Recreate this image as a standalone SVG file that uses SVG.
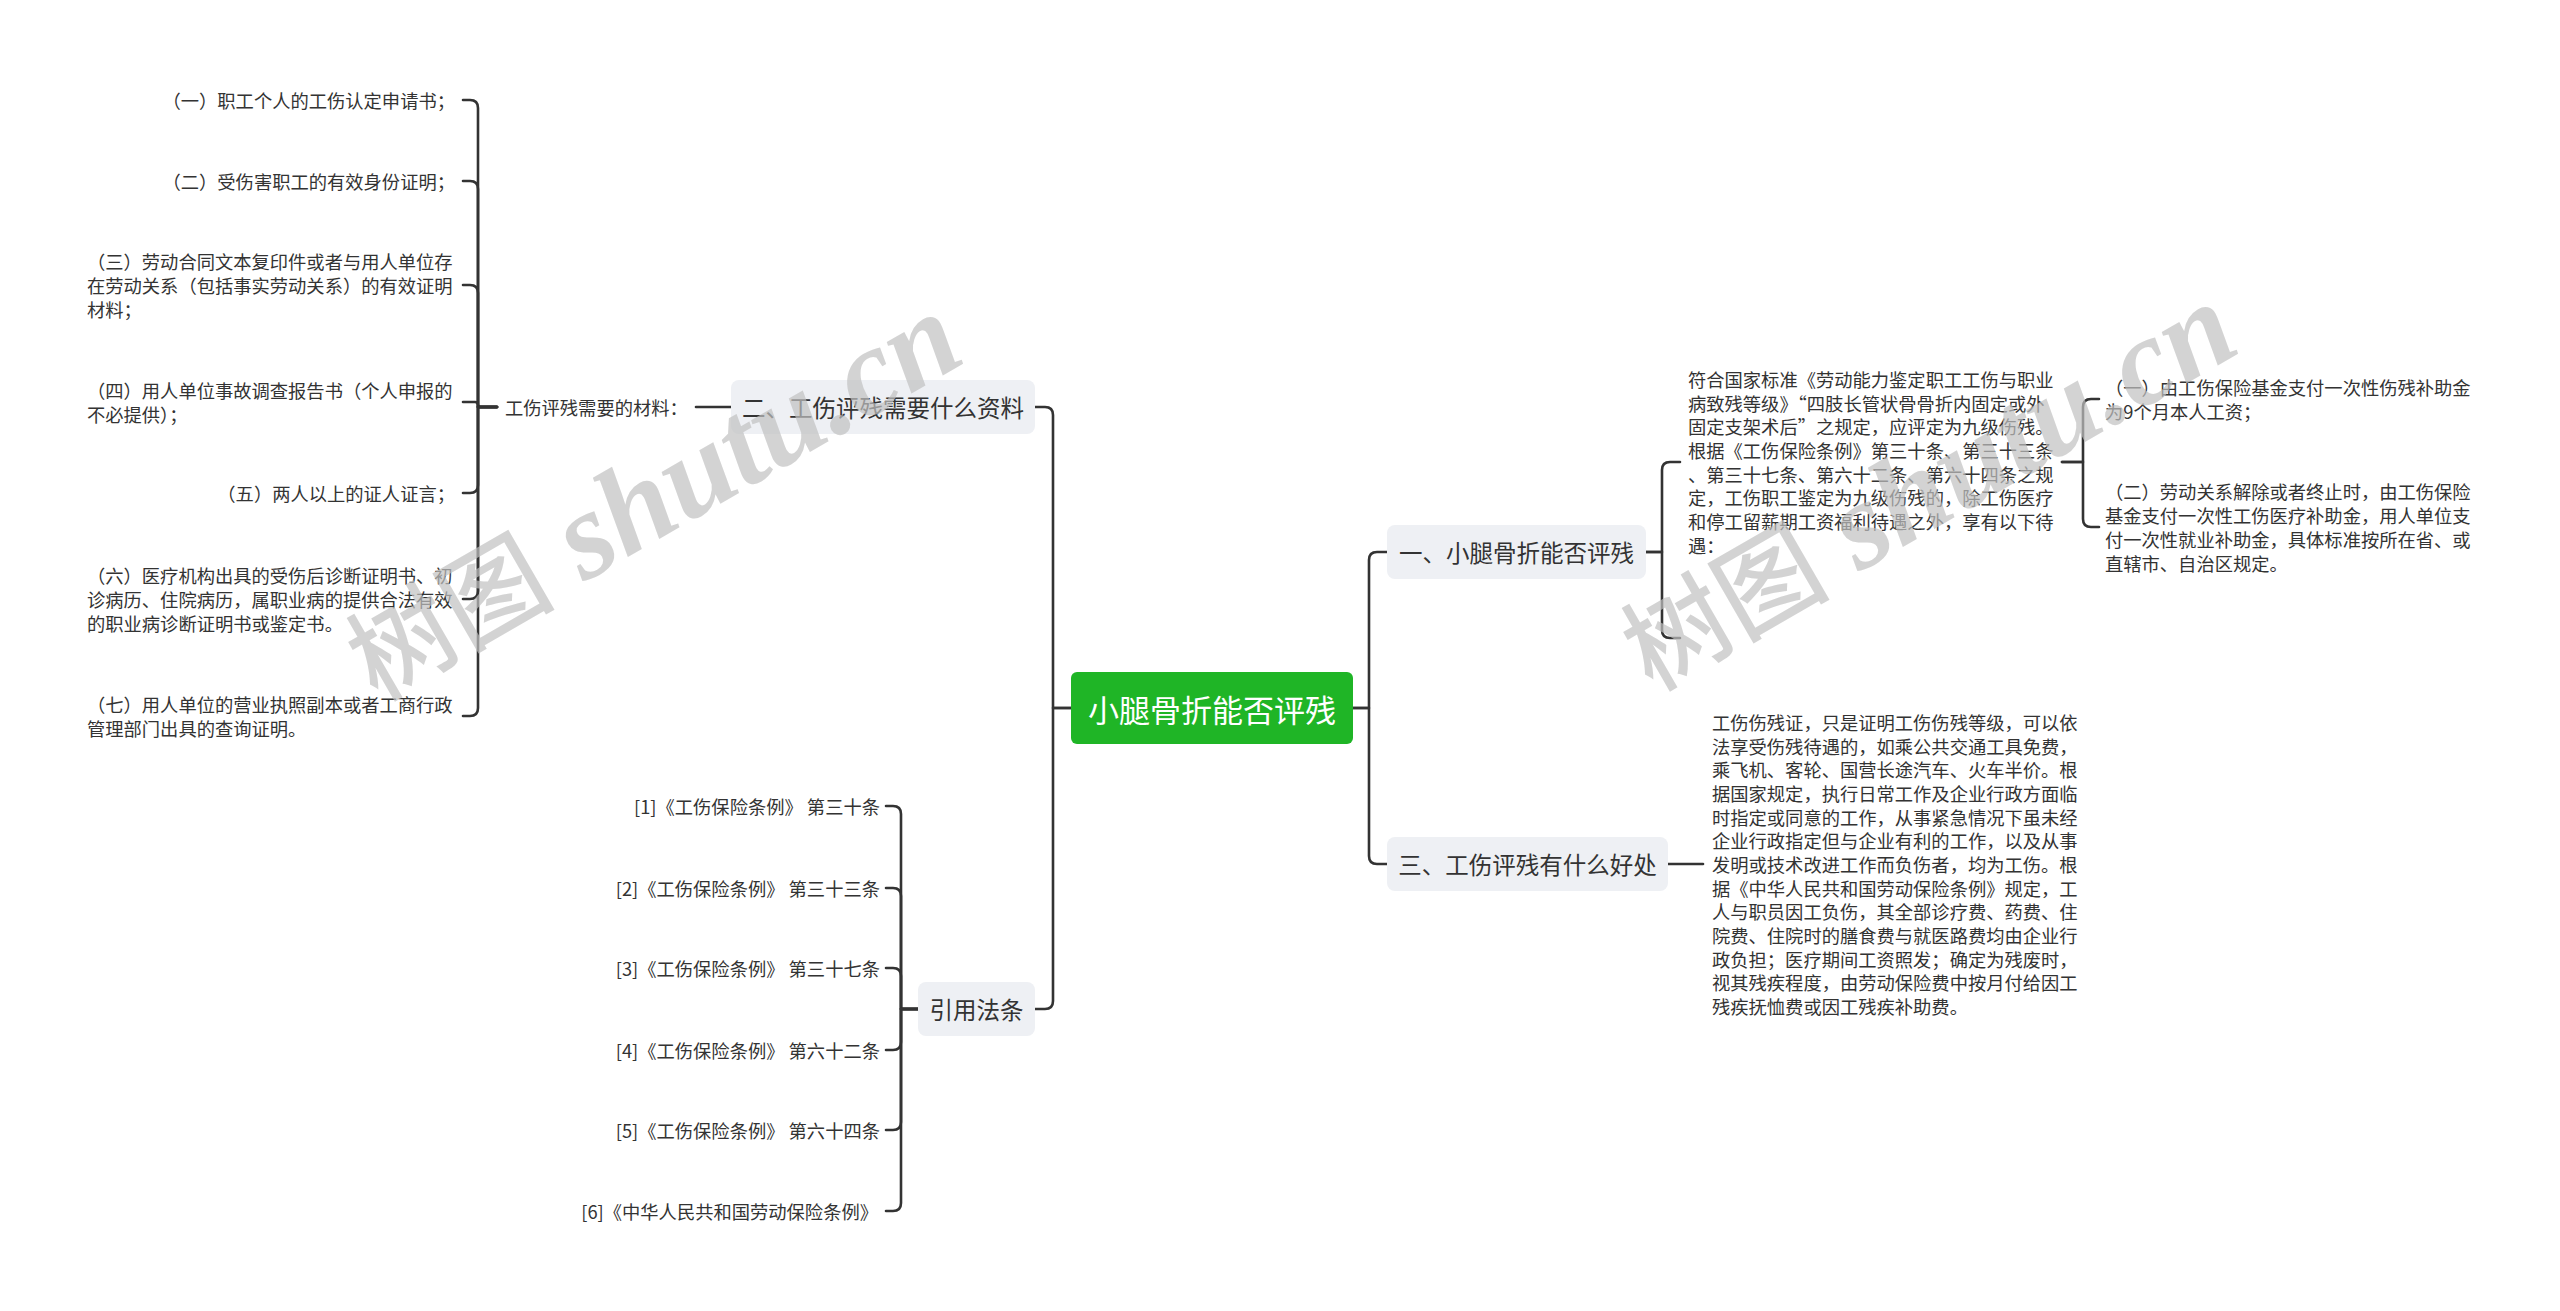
<svg xmlns="http://www.w3.org/2000/svg" width="2560" height="1311" viewBox="0 0 2560 1311">
<style>
.t{font-family:"Noto Sans CJK SC","Microsoft YaHei",sans-serif;fill:#333;}
.leaf{font-size:18.3px;dominant-baseline:central;}
.sub{font-size:23.5px;dominant-baseline:central;text-anchor:middle;}
.box{fill:#eef0f4;}
.c{fill:none;stroke:#333;stroke-width:2.6;stroke-linecap:round;stroke-linejoin:round;}
.wm1{font-family:"Noto Sans CJK SC",sans-serif;font-weight:500;}
.wm2{font-family:"Liberation Serif",serif;font-style:italic;font-weight:bold;}
</style>
<rect width="2560" height="1311" fill="#ffffff"/>
<g id="connectors">
<path class="c" d="M497,407 H478 V108 Q478,100 470,100 H463"/>
<path class="c" d="M497,407 H478 V189 Q478,181 470,181 H463"/>
<path class="c" d="M497,407 H478 V293 Q478,285 470,285 H463"/>
<path class="c" d="M497,407 H478 V405 Q478,402 475,402 H463"/>
<path class="c" d="M497,407 H478 V485 Q478,493 470,493 H463"/>
<path class="c" d="M497,407 H478 V591 Q478,599 470,599 H463"/>
<path class="c" d="M497,407 H478 V708 Q478,716 470,716 H463"/>
<path class="c" d="M696,407 H731"/>
<path class="c" d="M1071,708 H1053 V415 Q1053,407 1045,407 H1035"/>
<path class="c" d="M1071,708 H1053 V1001 Q1053,1009 1045,1009 H1035"/>
<path class="c" d="M1353,708 H1369 V560 Q1369,552 1377,552 H1387"/>
<path class="c" d="M1353,708 H1369 V856 Q1369,864 1377,864 H1387"/>
<path class="c" d="M1646,552 H1662 V470 Q1662,462 1670,462 H1680"/>
<path class="c" d="M1646,552 H1662 V630 Q1662,638 1670,638 H1680"/>
<path class="c" d="M2062,462 H2083 V407 Q2083,399 2091,399 H2099"/>
<path class="c" d="M2062,462 H2083 V519 Q2083,527 2091,527 H2099"/>
<path class="c" d="M1668,864 H1703"/>
<path class="c" d="M918,1009 H901 V814 Q901,806 893,806 H886"/>
<path class="c" d="M918,1009 H901 V896 Q901,888 893,888 H886"/>
<path class="c" d="M918,1009 H901 V976 Q901,968 893,968 H886"/>
<path class="c" d="M918,1009 H901 V1042 Q901,1050 893,1050 H886"/>
<path class="c" d="M918,1009 H901 V1122 Q901,1130 893,1130 H886"/>
<path class="c" d="M918,1009 H901 V1203 Q901,1211 893,1211 H886"/>
</g>
<g id="root">
<rect x="1071" y="672" width="282" height="72" rx="6" fill="#1fb526"/>
<text class="t" x="1212" y="708" font-size="31" style="fill:#ffffff" dominant-baseline="central" text-anchor="middle">小腿骨折能否评残</text>
</g>
<g id="n2">
<rect class="box" x="731" y="380" width="304" height="54" rx="8"/>
<text class="t sub" x="883" y="407">二、工伤评残需要什么资料</text>
</g>
<g id="n2-label">
<text class="t leaf" x="505" y="407">工伤评残需要的材料：</text>
</g>
<g id="m1"><text class="t leaf" x="455" y="100" text-anchor="end">（一）职工个人的工伤认定申请书；</text></g>
<g id="m2"><text class="t leaf" x="455" y="181" text-anchor="end">（二）受伤害职工的有效身份证明；</text></g>
<g id="m3"><text class="t leaf" x="87" y="261">（三）劳动合同文本复印件或者与用人单位存</text><text class="t leaf" x="87" y="285">在劳动关系（包括事实劳动关系）的有效证明</text><text class="t leaf" x="87" y="309">材料；</text></g>
<g id="m4"><text class="t leaf" x="87" y="390">（四）用人单位事故调查报告书（个人申报的</text><text class="t leaf" x="87" y="414">不必提供）；</text></g>
<g id="m5"><text class="t leaf" x="455" y="493" text-anchor="end">（五）两人以上的证人证言；</text></g>
<g id="m6"><text class="t leaf" x="87" y="575">（六）医疗机构出具的受伤后诊断证明书、初</text><text class="t leaf" x="87" y="599">诊病历、住院病历，属职业病的提供合法有效</text><text class="t leaf" x="87" y="623">的职业病诊断证明书或鉴定书。</text></g>
<g id="m7"><text class="t leaf" x="87" y="704">（七）用人单位的营业执照副本或者工商行政</text><text class="t leaf" x="87" y="728">管理部门出具的查询证明。</text></g>
<g id="nref">
<rect class="box" x="918" y="982" width="117" height="54" rx="8"/>
<text class="t sub" x="976.5" y="1009">引用法条</text>
</g>
<g id="r1"><text class="t leaf" x="880" y="806" text-anchor="end">[1]《工伤保险条例》 第三十条</text></g>
<g id="r2"><text class="t leaf" x="880" y="888" text-anchor="end">[2]《工伤保险条例》 第三十三条</text></g>
<g id="r3"><text class="t leaf" x="880" y="968" text-anchor="end">[3]《工伤保险条例》 第三十七条</text></g>
<g id="r4"><text class="t leaf" x="880" y="1050" text-anchor="end">[4]《工伤保险条例》 第六十二条</text></g>
<g id="r5"><text class="t leaf" x="880" y="1130" text-anchor="end">[5]《工伤保险条例》 第六十四条</text></g>
<g id="r6"><text class="t leaf" x="878" y="1211" text-anchor="end">[6]《中华人民共和国劳动保险条例》</text></g>
<g id="n1">
<rect class="box" x="1387" y="525" width="259" height="54" rx="8"/>
<text class="t sub" x="1516.5" y="552">一、小腿骨折能否评残</text>
</g>
<g id="a1">
<text class="t leaf" x="1688" y="379">符合国家标准《劳动能力鉴定职工工伤与职业</text>
<text class="t leaf" x="1688" y="403">病致残等级》“四肢长管状骨骨折内固定或外</text>
<text class="t leaf" x="1688" y="426">固定支架术后”之规定，应评定为九级伤残。</text>
<text class="t leaf" x="1688" y="450">根据《工伤保险条例》第三十条、第三十三条</text>
<text class="t leaf" x="1688" y="474">、第三十七条、第六十二条、第六十四条之规</text>
<text class="t leaf" x="1688" y="497">定，工伤职工鉴定为九级伤残的，除工伤医疗</text>
<text class="t leaf" x="1688" y="521">和停工留薪期工资福利待遇之外，享有以下待</text>
<text class="t leaf" x="1688" y="545">遇：</text>
</g>
<g id="b1">
<text class="t leaf" x="2105" y="387">（一）由工伤保险基金支付一次性伤残补助金</text>
<text class="t leaf" x="2105" y="411">为9个月本人工资；</text>
</g>
<g id="b2">
<text class="t leaf" x="2105" y="491">（二）劳动关系解除或者终止时，由工伤保险</text>
<text class="t leaf" x="2105" y="515">基金支付一次性工伤医疗补助金，用人单位支</text>
<text class="t leaf" x="2105" y="539">付一次性就业补助金，具体标准按所在省、或</text>
<text class="t leaf" x="2105" y="563">直辖市、自治区规定。</text>
</g>
<g id="n3">
<rect class="box" x="1387" y="837" width="281" height="54" rx="8"/>
<text class="t sub" x="1527.5" y="864">三、工伤评残有什么好处</text>
</g>
<g id="c1">
<text class="t leaf" x="1712" y="722">工伤伤残证，只是证明工伤伤残等级，可以依</text>
<text class="t leaf" x="1712" y="746">法享受伤残待遇的，如乘公共交通工具免费，</text>
<text class="t leaf" x="1712" y="769">乘飞机、客轮、国营长途汽车、火车半价。根</text>
<text class="t leaf" x="1712" y="793">据国家规定，执行日常工作及企业行政方面临</text>
<text class="t leaf" x="1712" y="817">时指定或同意的工作，从事紧急情况下虽未经</text>
<text class="t leaf" x="1712" y="840">企业行政指定但与企业有利的工作，以及从事</text>
<text class="t leaf" x="1712" y="864">发明或技术改进工作而负伤者，均为工伤。根</text>
<text class="t leaf" x="1712" y="888">据《中华人民共和国劳动保险条例》规定，工</text>
<text class="t leaf" x="1712" y="911">人与职员因工负伤，其全部诊疗费、药费、住</text>
<text class="t leaf" x="1712" y="935">院费、住院时的膳食费与就医路费均由企业行</text>
<text class="t leaf" x="1712" y="959">政负担；医疗期间工资照发；确定为残废时，</text>
<text class="t leaf" x="1712" y="982">视其残疾程度，由劳动保险费中按月付给因工</text>
<text class="t leaf" x="1712" y="1006">残疾抚恤费或因工残疾补助费。</text>
</g>
<g id="watermark" fill="#c0c0c0" fill-opacity="0.7">
<text transform="translate(377,702) rotate(-30)"><tspan class="wm1" font-size="104">树图</tspan><tspan class="wm2" font-size="124"> shutu.cn</tspan></text>
<text transform="translate(1652,692) rotate(-30)"><tspan class="wm1" font-size="104">树图</tspan><tspan class="wm2" font-size="124"> shutu.cn</tspan></text>
</g>
</svg>
